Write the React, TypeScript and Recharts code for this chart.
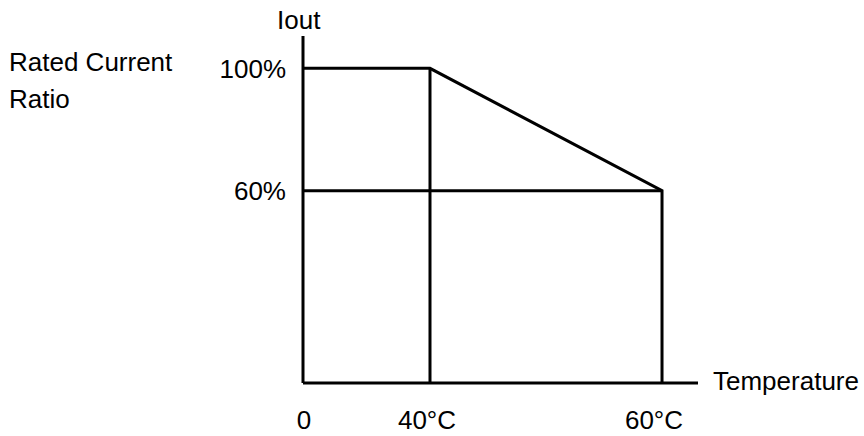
import { ComposedChart, Line, XAxis, YAxis, ReferenceLine } from 'recharts'

// derating curve: temperature (°C) vs rated current ratio (%)
const temperature = [0, 40, 60, 60]
const currentRatio = [100, 100, 60, 0]

const xTicks = [0, 40, 60]
const xTickLabels = ['0', '40°C', '60°C']
const yTicks = [60, 100]
const yTickLabels = ['60%', '100%']

// axis ends (axes run a little past the last marks)
const xAxisEnd = 65
const yAxisEnd = 110

const FONT = '"Liberation Sans", Arial, sans-serif'
const INK = '#000'
const FONT_SIZE = 26

// small horizontal nudges of the x tick labels, as in the original drawing
const xLabelShift = [1, -3, -8]

// schematic axes: not to scale, so map knots to fractions of the axis length
function piecewiseScale(knots: number[], stops: number[]) {
  let dom = [knots[0], knots[knots.length - 1]]
  let rng = [0, 1]
  const f: any = (v: number) => {
    let i = 0
    while (i < knots.length - 2 && v > knots[i + 1]) i++
    const t = stops[i] + ((v - knots[i]) / (knots[i + 1] - knots[i])) * (stops[i + 1] - stops[i])
    return rng[0] + t * (rng[1] - rng[0])
  }
  f.domain = (d?: number[]) => {
    if (d === undefined) return dom
    dom = [...d]
    return f
  }
  f.range = (r?: number[]) => {
    if (r === undefined) return rng
    rng = [...r]
    return f
  }
  f.copy = () => piecewiseScale(knots, stops).domain(dom).range(rng)
  f.ticks = () => knots.slice()
  return f
}

const xScale = piecewiseScale([0, 40, 60, xAxisEnd], [0, 0.3215, 0.9089, 1])
const yScale = piecewiseScale([0, 60, 100, yAxisEnd], [0, 0.5542, 0.9069, 1])

const data = temperature.map((t, i) => ({ t, ratio: currentRatio[i] }))

const textStyle = { fontSize: FONT_SIZE, fill: INK, fontFamily: FONT }

const XTick = ({ x, y, payload }: any) => {
  const i = xTicks.indexOf(payload.value)
  return (
    <text x={x + (xLabelShift[i] ?? 0)} y={y + FONT_SIZE * 0.71} textAnchor="middle" {...textStyle}>
      {xTickLabels[i]}
    </text>
  )
}

export default function App() {
  return (
    <div style={{ position: 'absolute', left: 0, top: 0, background: '#fff' }}>
      <ComposedChart
        width={864}
        height={436}
        data={data}
        margin={{ top: 36, right: 166, bottom: 0, left: 0 }}
        style={{ fontFamily: FONT }}
      >
        <XAxis
          dataKey="t"
          type="number"
          domain={[0, xAxisEnd]}
          scale={xScale}
          ticks={xTicks}
          height={53}
          tickLine={false}
          tickMargin={22}
          tick={<XTick />}
          axisLine={{ stroke: INK, strokeWidth: 3 }}
          interval={0}
          allowDataOverflow
        />
        <YAxis
          dataKey="ratio"
          type="number"
          domain={[0, yAxisEnd]}
          scale={yScale}
          ticks={yTicks}
          tickFormatter={(v: number) => yTickLabels[yTicks.indexOf(v)]}
          width={303}
          tickLine={false}
          tickMargin={11}
          tick={textStyle}
          axisLine={{ stroke: INK, strokeWidth: 3 }}
          interval={0}
          allowDataOverflow
        />
        {/* drop lines from the knee and the end point */}
        <ReferenceLine
          segment={[{ x: temperature[1], y: 0 }, { x: temperature[1], y: currentRatio[1] }]}
          stroke={INK}
          strokeWidth={3}
          ifOverflow="visible"
        />
        <ReferenceLine
          segment={[{ x: 0, y: currentRatio[2] }, { x: temperature[2], y: currentRatio[2] }]}
          stroke={INK}
          strokeWidth={3}
          ifOverflow="visible"
        />
        <Line
          dataKey="ratio"
          type="linear"
          stroke={INK}
          strokeWidth={3}
          dot={false}
          activeDot={false}
          isAnimationActive={false}
        />
        <text x={277} y={29} {...textStyle}>Iout</text>
        <text x={9} y={71} {...textStyle}>Rated Current</text>
        <text x={9} y={108} {...textStyle}>Ratio</text>
        <text x={713} y={390} {...textStyle}>Temperature</text>
      </ComposedChart>
    </div>
  )
}
